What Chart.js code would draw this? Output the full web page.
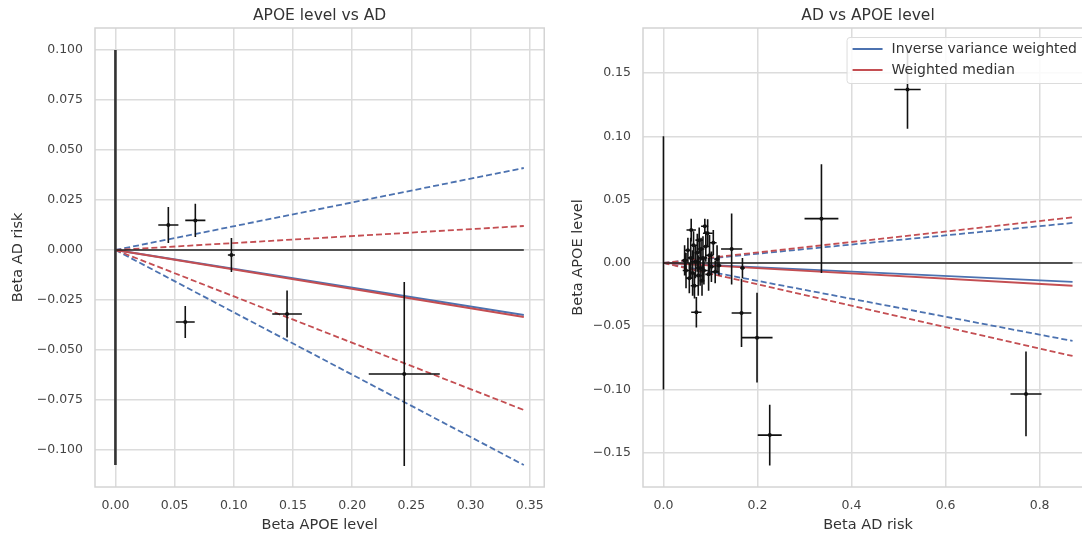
<!DOCTYPE html>
<html lang="en">
<head>
  <meta charset="UTF-8">
  <title>APOE level vs AD</title>
  <script src="https://cdn.jsdelivr.net/npm/chart.js"></script>
  <style>
    html, body {
      margin: 0;
      padding: 0;
      background: #ffffff;
      overflow: hidden;
    }
    body {
      width: 1082px;
      height: 535px;
      position: relative;
    }
    #leftChart { position: absolute; left: 0; top: 0; }
    #rightChart { position: absolute; left: 555px; top: 0; }
  </style>
</head>
<body>
  <canvas id="leftChart" width="555" height="535"></canvas>
  <canvas id="rightChart" width="548" height="535"></canvas>

  <script>
    // ---- left panel: APOE level (x) vs AD risk (y) ----
    const leftX    = [0.0447, 0.0675, 0.098, 0.059, 0.145, 0.244];
    const leftY    = [0.0125, 0.0148, -0.0025, -0.036, -0.032, -0.062];
    const leftXErr = [0.0085, 0.0085, 0.003, 0.008, 0.0125, 0.030];
    const leftYErr = [0.009, 0.0083, 0.0085, 0.008, 0.0118, 0.046];

    // reference lines through the origin
    const leftVertical   = [0.1, -0.1075];   // y from / to at x = 0
    const leftHorizontal = [0, 0.345];       // x from / to at y = 0
    const leftLineX      = [0, 0.345];
    const leftIvw        = [0, -0.0325];
    const leftIvwUpper   = [0, 0.041];
    const leftIvwLower   = [0, -0.1075];
    const leftWm         = [0, -0.0335];
    const leftWmUpper    = [0, 0.012];
    const leftWmLower    = [0, -0.080];

    // ---- right panel: AD risk (x) vs APOE level (y) ----
    const rightX = [0.045, 0.048, 0.052, 0.055, 0.058, 0.059, 0.062, 0.064, 0.066, 0.068,
                    0.070, 0.072, 0.074, 0.076, 0.078, 0.080, 0.082, 0.084, 0.086, 0.088,
                    0.090, 0.094, 0.096, 0.098, 0.102, 0.106, 0.110, 0.114, 0.118,
                    0.145, 0.168, 0.166, 0.199, 0.226, 0.336, 0.519, 0.771];
    const rightY = [0.002, -0.006, 0.010, -0.012, 0.004, 0.026, -0.008, 0.014, -0.018, 0.001,
                    -0.039, 0.008, -0.010, 0.018, -0.004, 0.011, -0.014, 0.004, -0.006, 0.029,
                    0.013, 0.0235, -0.009, 0.006, -0.003, 0.016, -0.007, 0.003, -0.002,
                    0.011, -0.004, -0.0395, -0.059, -0.136, 0.035, 0.137, -0.1035];
    const rightXErr = [0.006, 0.007, 0.006, 0.008, 0.007, 0.010, 0.006, 0.007, 0.008, 0.009,
                       0.011, 0.006, 0.007, 0.008, 0.010, 0.007, 0.006, 0.009, 0.008, 0.008,
                       0.007, 0.010, 0.007, 0.008, 0.006, 0.007, 0.008, 0.006, 0.005,
                       0.0225, 0.005, 0.021, 0.033, 0.0255, 0.036, 0.028, 0.033];
    const rightYErr = [0.012, 0.014, 0.010, 0.012, 0.016, 0.009, 0.018, 0.011, 0.010, 0.013,
                       0.012, 0.015, 0.016, 0.010, 0.014, 0.009, 0.012, 0.017, 0.011, 0.006,
                       0.012, 0.011, 0.013, 0.016, 0.012, 0.010, 0.009, 0.011, 0.008,
                       0.028, 0.008, 0.027, 0.0355, 0.024, 0.043, 0.031, 0.0335];

    const rightVertical   = [0.1, -0.1];
    const rightHorizontal = [0, 0.87];
    const rightLineX      = [0, 0.87];
    const rightIvw        = [0, -0.015];
    const rightIvwUpper   = [0, 0.0316];
    const rightIvwLower   = [0, -0.0616];
    const rightWm         = [0, -0.018];
    const rightWmUpper    = [0, 0.036];
    const rightWmLower    = [0, -0.0735];

    const legendLabels = ['Inverse variance weighted', 'Weighted median'];

    const BLUE = '#4c72b0';
    const RED = '#c44e52';
    const FONT = '"DejaVu Sans", "Liberation Sans", sans-serif';

    // error bars as one broken polyline: NaN points split the segments
    function errorBars(xs, ys, xe, ye) {
      const pts = [];
      const gap = {x: NaN, y: NaN};
      xs.forEach((x, i) => {
        pts.push({x: x - xe[i], y: ys[i]}, {x: x + xe[i], y: ys[i]}, gap);
        pts.push({x: x, y: ys[i] - ye[i]}, {x: x, y: ys[i] + ye[i]}, gap);
      });
      return pts;
    }

    function pairs(xs, ys) {
      return xs.map((x, i) => ({x: x, y: ys[i]}));
    }

    function line(label, xs, ys, color, dashed, order) {
      return {
        label: label,
        data: pairs(xs, ys),
        showLine: true,
        borderColor: color,
        borderWidth: 1.8,
        borderDash: dashed ? [6, 3] : [],
        pointRadius: 0,
        order: order
      };
    }

    function tickFmt(digits) {
      return function (v) {
        const n = Math.abs(v) < 1e-9 ? 0 : v;
        return n.toFixed(digits).replace('-', '\u2212');
      };
    }

    // light frame around the plot area (all four sides)
    const framePlugin = {
      id: 'frame',
      beforeDatasetsDraw(chart) {
        const a = chart.chartArea;
        const ctx = chart.ctx;
        ctx.save();
        ctx.strokeStyle = '#d4d4d4';
        ctx.lineWidth = 1.5;
        ctx.strokeRect(a.left, a.top, a.right - a.left, a.bottom - a.top);
        ctx.restore();
      }
    };

    // legend drawn inside the plot area, upper right
    const boxLegend = {
      id: 'boxLegend',
      afterDatasetsDraw(chart, args, opts) {
        if (!opts.display) return;
        const items = legendLabels.map(l => chart.data.datasets.find(d => d.label === l));
        const a = chart.chartArea;
        const ctx = chart.ctx;
        ctx.save();
        ctx.font = '14px ' + FONT;
        const textW = Math.max(...items.map(d => ctx.measureText(d.label).width));
        const w = 45 + textW + 8;
        const h = 46;
        const x0 = a.right - 8 - w;
        const y0 = a.top + 9;
        ctx.fillStyle = 'rgba(255,255,255,0.85)';
        ctx.strokeStyle = '#dcdcdc';
        ctx.lineWidth = 1;
        ctx.beginPath();
        ctx.roundRect(x0 + 0.5, y0 + 0.5, w, h, 3);
        ctx.fill();
        ctx.stroke();
        items.forEach((d, i) => {
          const y = y0 + 12 + i * 21;
          ctx.strokeStyle = d.borderColor;
          ctx.lineWidth = 2;
          ctx.beginPath();
          ctx.moveTo(x0 + 6, y);
          ctx.lineTo(x0 + 36, y);
          ctx.stroke();
          ctx.fillStyle = '#333';
          ctx.textBaseline = 'middle';
          ctx.fillText(d.label, x0 + 45, y);
        });
        ctx.restore();
      }
    };

    function makeChart(id, cfg) {
      const grid = {color: '#dcdcdc', lineWidth: 1.5, drawTicks: false};
      return new Chart(document.getElementById(id), {
        type: 'scatter',
        data: {datasets: cfg.datasets},
        plugins: [framePlugin, boxLegend],
        options: {
          responsive: false,
          animation: false,
          layout: {padding: {left: 0, right: 10, top: 0, bottom: 0}},
          plugins: {
            legend: {display: false},
            tooltip: {enabled: false},
            boxLegend: {display: cfg.legend},
            title: {
              display: true,
              text: cfg.title,
              fullSize: false,
              color: '#333',
              font: {family: FONT, size: 15.5, weight: 'normal'},
              padding: {top: 7, bottom: 2.4}
            }
          },
          scales: {
            x: {
              min: cfg.xMin, max: cfg.xMax,
              grid: grid,
              border: {display: false},
              ticks: {
                stepSize: cfg.xStep, includeBounds: false, padding: 11,
                color: '#444', font: {family: FONT, size: 12.5},
                callback: tickFmt(cfg.xDigits)
              },
              title: {
                display: true, text: cfg.xLabel, color: '#333',
                font: {family: FONT, size: 14.5}, padding: {top: 1, bottom: 1}
              },
              afterFit(scale) { scale.height = 48; }
            },
            y: {
              min: cfg.yMin, max: cfg.yMax,
              grid: grid,
              border: {display: false},
              ticks: {
                stepSize: cfg.yStep, includeBounds: false, padding: 12,
                color: '#444', font: {family: FONT, size: 12.5},
                callback: tickFmt(cfg.yDigits)
              },
              title: {
                display: true, text: cfg.yLabel, color: '#333',
                font: {family: FONT, size: 14.5}, padding: {top: cfg.yTitlePad, bottom: 0}
              },
              afterFit(scale) { scale.width = cfg.yWidth; }
            }
          }
        }
      });
    }

    function panelDatasets(p) {
      return [
        {
          label: 'error bars',
          data: errorBars(p.x, p.y, p.xe, p.ye),
          showLine: true, borderColor: '#111', borderWidth: 1.6,
          pointRadius: 0, order: 1
        },
        {
          label: 'estimates',
          data: pairs(p.x, p.y),
          backgroundColor: '#111', borderWidth: 0,
          pointRadius: 2, order: 0
        },
        {
          label: 'vertical',
          data: pairs([0, 0], p.vertical),
          showLine: true, borderColor: p.vColor, borderWidth: p.vWidth,
          pointRadius: 0, order: 2
        },
        {
          label: 'horizontal',
          data: pairs(p.horizontal, [0, 0]),
          showLine: true, borderColor: '#222', borderWidth: 1.6,
          pointRadius: 0, order: 2
        },
        line('Weighted median', p.lineX, p.wm, RED, false, 3),
        line('WM upper', p.lineX, p.wmUpper, RED, true, 3),
        line('WM lower', p.lineX, p.wmLower, RED, true, 3),
        line('Inverse variance weighted', p.lineX, p.ivw, BLUE, false, 4),
        line('IVW upper', p.lineX, p.ivwUpper, BLUE, true, 4),
        line('IVW lower', p.lineX, p.ivwLower, BLUE, true, 4)
      ];
    }

    makeChart('leftChart', {
      title: 'APOE level vs AD',
      xLabel: 'Beta APOE level',
      yLabel: 'Beta AD risk',
      xMin: -0.01725, xMax: 0.36225, xStep: 0.05, xDigits: 2,
      yMin: -0.1185, yMax: 0.111, yStep: 0.025, yDigits: 3,
      yWidth: 95, yTitlePad: 10, legend: false,
      datasets: panelDatasets({
        x: leftX, y: leftY, xe: leftXErr, ye: leftYErr,
        vertical: leftVertical, horizontal: leftHorizontal,
        vColor: '#333', vWidth: 2.6,
        lineX: leftLineX, ivw: leftIvw, ivwUpper: leftIvwUpper, ivwLower: leftIvwLower,
        wm: leftWm, wmUpper: leftWmUpper, wmLower: leftWmLower
      })
    });

    makeChart('rightChart', {
      title: 'AD vs APOE level',
      xLabel: 'Beta AD risk',
      yLabel: 'Beta APOE level',
      xMin: -0.0435, xMax: 0.9135, xStep: 0.2, xDigits: 1,
      yMin: -0.177, yMax: 0.1856, yStep: 0.05, yDigits: 2,
      yWidth: 88, yTitlePad: 15, legend: true,
      datasets: panelDatasets({
        x: rightX, y: rightY, xe: rightXErr, ye: rightYErr,
        vertical: rightVertical, horizontal: rightHorizontal,
        vColor: '#111', vWidth: 1.6,
        lineX: rightLineX, ivw: rightIvw, ivwUpper: rightIvwUpper, ivwLower: rightIvwLower,
        wm: rightWm, wmUpper: rightWmUpper, wmLower: rightWmLower
      })
    });
  </script>
</body>
</html>
